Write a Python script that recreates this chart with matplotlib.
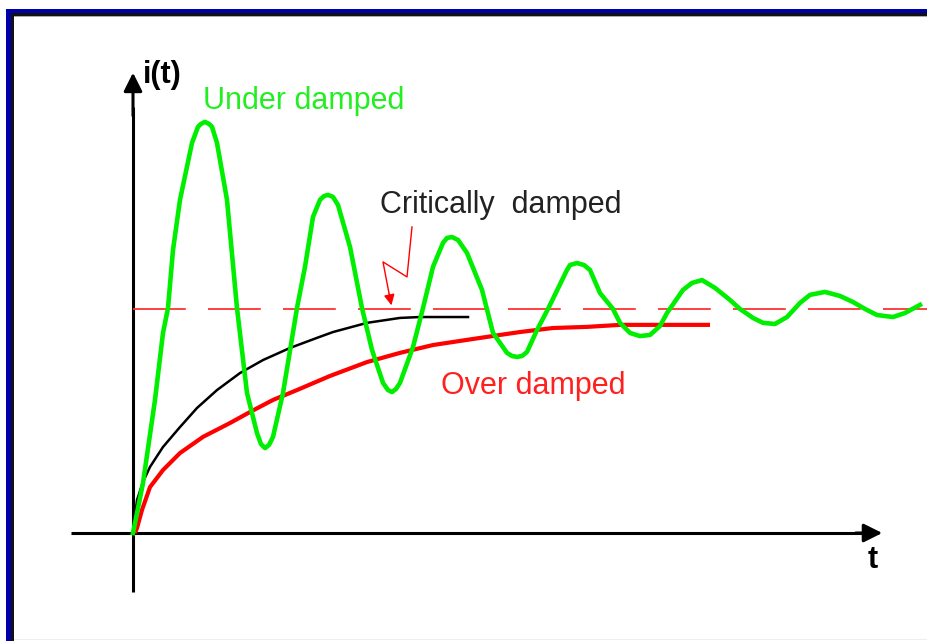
import matplotlib
matplotlib.use("Agg")
import matplotlib.pyplot as plt
from matplotlib.patches import Rectangle

plt.rcParams["font.family"] = ["Liberation Sans", "DejaVu Sans"]
plt.rcParams["lines.scale_dashes"] = False

# Under damped response (t, i), steady state = 1
under_t = [0.00, 0.10, 0.22, 0.30, 0.35, 0.40, 0.47, 0.59, 0.65, 0.68, 0.72, 0.76, 0.79, 0.84,
           0.94, 1.04, 1.14, 1.24, 1.28, 1.32, 1.36, 1.40, 1.50, 1.64, 1.72, 1.80, 1.87, 1.91,
           1.95, 2.00, 2.05, 2.17, 2.29, 2.39, 2.50, 2.55, 2.59, 2.63, 2.67, 2.80, 2.90, 3.00,
           3.10, 3.14, 3.19, 3.25, 3.34, 3.49, 3.60, 3.74, 3.79, 3.84, 3.89, 3.94, 4.04, 4.15,
           4.34, 4.37, 4.44, 4.51, 4.57, 4.67, 4.80, 4.87, 4.97, 5.07, 5.17, 5.27, 5.34, 5.50,
           5.59, 5.69, 5.82, 5.97, 6.07, 6.20, 6.30, 6.42, 6.54, 6.67, 6.77, 6.92, 7.07, 7.20,
           7.32, 7.44, 7.60, 7.72, 7.87]
under_i = [0.000, 0.223, 0.594, 0.893, 1.004, 1.263, 1.487, 1.741, 1.813, 1.826, 1.835, 1.826, 1.813, 1.741,
           1.487, 1.004, 0.625, 0.446, 0.397, 0.379, 0.393, 0.429, 0.625, 1.004, 1.188, 1.411, 1.487, 1.504,
           1.509, 1.500, 1.464, 1.277, 1.004, 0.817, 0.670, 0.638, 0.629, 0.643, 0.670, 0.830, 1.004, 1.188,
           1.295, 1.317, 1.321, 1.308, 1.250, 1.085, 0.893, 0.804, 0.790, 0.786, 0.790, 0.808, 0.906, 1.000,
           1.174, 1.196, 1.205, 1.196, 1.174, 1.071, 1.000, 0.938, 0.893, 0.879, 0.884, 0.924, 0.982, 1.085,
           1.116, 1.129, 1.094, 1.040, 1.000, 0.960, 0.938, 0.933, 0.964, 1.027, 1.063, 1.076, 1.058, 1.031,
           1.000, 0.973, 0.964, 0.982, 1.018]

# Critically damped
crit_t = [0.00, 0.04, 0.10, 0.17, 0.30, 0.47, 0.64, 0.84, 1.07, 1.30, 1.57, 1.84,
          2.00, 2.34, 2.67, 2.87, 3.35]
crit_i = [0.000, 0.147, 0.228, 0.295, 0.384, 0.473, 0.558, 0.638, 0.714, 0.772, 0.826, 0.871,
          0.897, 0.938, 0.960, 0.964, 0.964]

# Over damped
over_t = [0.02, 0.04, 0.09, 0.17, 0.30, 0.47, 0.70, 0.97, 1.17, 1.40, 1.64, 1.97,
          2.34, 2.67, 3.00, 3.34, 3.67, 3.87, 4.20, 4.54, 4.87, 5.77]
over_i = [0.000, 0.022, 0.103, 0.205, 0.281, 0.357, 0.429, 0.491, 0.540, 0.594, 0.638, 0.701,
          0.763, 0.804, 0.839, 0.862, 0.884, 0.897, 0.915, 0.920, 0.929, 0.929]

steady_level = 1.0

W, H = 928, 641
fig = plt.figure(figsize=(W / 100, H / 100), dpi=100)
ax = fig.add_axes([0, 0, 1, 1])
ax.set_xlim(-1.33, 7.95)
ax.set_ylim(-0.482, 2.379)
ax.axis("off")

# axes with arrows
ax.plot([-0.62, 7.3], [0, 0], color="black", lw=2.2, solid_capstyle="butt")
ax.plot([0, 0], [-0.263, 1.9], color="black", lw=2.2, solid_capstyle="butt")
ax.annotate("", xy=(7.52, 0), xytext=(7.2, 0),
            arrowprops=dict(arrowstyle="-|>", color="black", lw=2.2, mutation_scale=28))
ax.annotate("", xy=(0, 2.067), xytext=(0, 1.85),
            arrowprops=dict(arrowstyle="-|>", color="black", lw=2.2, mutation_scale=28))

# steady state dashed line
ax.plot([0, 7.95], [steady_level, steady_level], color="#ff3333", lw=1.3, dashes=(38, 16))

ax.plot(over_t, over_i, color="#ff0000", lw=3.0, solid_capstyle="butt")
ax.plot(crit_t, crit_i, color="black", lw=1.8)
ax.plot(under_t, under_i, color="#00ee00", lw=3.3, solid_joinstyle="round")

# zigzag pointer for the critically damped label
ax.plot([2.79, 2.74, 2.50, 2.56], [1.366, 1.143, 1.210, 1.07], color="#ff0000", lw=1.0)
ax.annotate("", xy=(2.59, 1.004), xytext=(2.555, 1.08),
            arrowprops=dict(arrowstyle="-|>", color="#ff0000", lw=1.0, mutation_scale=16))

fs = 22
ax.text(0.10, 2.045, "i(t)", fontsize=fs, fontweight="bold", ha="left", va="center")
ax.text(7.40, -0.121, "t", fontsize=fs, fontweight="bold", ha="center", va="center")
ax.text(0.70, 1.929, "Under damped", fontsize=fs, color="#22ee22", ha="left", va="center")
ax.text(2.47, 1.464, "Critically  damped", fontsize=fs, color="#222222", ha="left", va="center")
ax.text(3.08, 0.656, "Over damped", fontsize=fs, color="#ff2020", ha="left", va="center")

# window frame (blue + black edge on left and top)
def px_rect(x0, y0, x1, y1, color):
    fig.add_artist(Rectangle((x0 / W, 1 - y1 / H), (x1 - x0) / W, (y1 - y0) / H,
                             transform=fig.transFigure, color=color, lw=0))

px_rect(6, 9, W, 13, "#0000aa")
px_rect(6, 9, 11, H, "#0000aa")
px_rect(11, 13, W, 16, "#111111")
px_rect(11, 13, 14, H, "#111111")
px_rect(14, 16, W, 17, "#aaaaaa")
px_rect(14, 639, W, 640, "#eeeeee")

fig.savefig("out.png", dpi=100)
